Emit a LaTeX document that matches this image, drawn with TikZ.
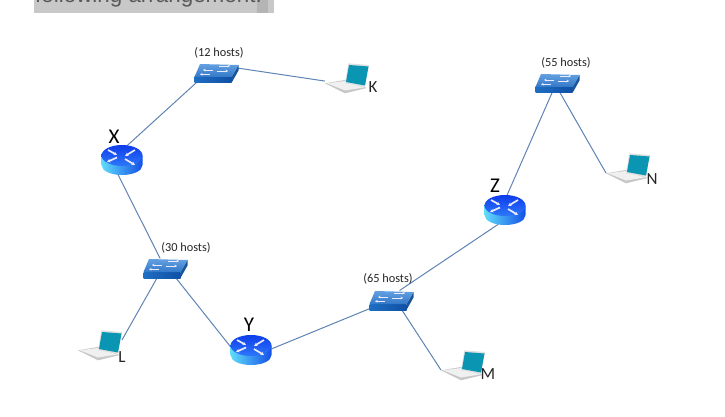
\documentclass[tikz,border=0pt]{standalone}
\usepackage{fontspec}
\setmainfont{Carlito}
\newfontfamily\bandfont{Liberation Sans}
\usetikzlibrary{shapes.geometric, arrows.meta}
\definecolor{linkblue}{RGB}{96,132,180}
\definecolor{bandgray}{RGB}{200,200,200}
\definecolor{bandedge}{RGB}{180,180,180}
\definecolor{screenteal}{RGB}{10,150,178}
\definecolor{rtcyan}{RGB}{95,220,250}
\definecolor{rtmid}{RGB}{40,135,240}
\definecolor{rtblue}{RGB}{20,80,232}
\definecolor{rttop}{RGB}{15,60,235}
\definecolor{rttopb}{RGB}{45,120,250}
\definecolor{swtop}{RGB}{100,160,225}
\definecolor{swtopb}{RGB}{50,120,200}
\definecolor{swfront}{RGB}{30,110,195}
\definecolor{swfrontb}{RGB}{15,80,165}
\definecolor{swside}{RGB}{25,85,155}
\tikzset{
  rt/.style = {ellipse, minimum width=41pt, minimum height=30pt, inner sep=0pt, outer sep=0pt},
  sw/.style = {rectangle, minimum width=43pt, minimum height=19pt, inner sep=0pt, outer sep=0pt},
  lap/.style = {rectangle, minimum width=44pt, minimum height=30pt, inner sep=0pt, outer sep=0pt},
  lk/.style = {draw=linkblue, line width=1pt},
  hostlb/.style = {font=\fontsize{12.3}{14}\selectfont, text=black!85, inner sep=0pt},
  rtlb/.style = {font=\fontsize{21}{23}\selectfont, inner sep=0pt},
  laplb/.style = {font=\fontsize{17}{19}\selectfont, text=black!85, inner sep=0pt},
  wht/.style = {-{Stealth[length=2.6pt,width=2.6pt]}, draw=white!92!blue, line width=0.9pt},
  whr/.style = {-{Stealth[length=3.4pt,width=3.6pt]}, draw=white!92!blue, line width=1.7pt},
  router/.pic = {
    \shade [left color=rtcyan, middle color=rtmid, right color=rtblue]
      (-20.5,-4.5) -- (-20.5,5) .. controls (-20.5,11) and (-11,15) .. (0,15)
      .. controls (11,15) and (20.5,11) .. (20.5,5) -- (20.5,-4.5) -- cycle;
    \shade [top color=rttop, bottom color=rttopb]
      (0,-4.5) ellipse [x radius=20.5, y radius=10.5];
    \draw [whr] (-14,-10) -- (-5,-5);
    \draw [whr] (13,-10) -- (3,-4);
    \draw [whr] (-5,-2.5) -- (-15,2);
    \draw [whr] (3,-1) -- (13,5);
  },
  hub/.pic = {
    \shade [left color=swfront, right color=swfrontb]
      (-21.5,4) -- (15.5,4) -- (15.5,10) -- (-21.5,10) -- cycle;
    \fill [swside] (15.5,4) -- (22.5,-8) -- (22.5,-2.5) -- (15.5,10) -- cycle;
    \shade [top color=swtop, bottom color=swtopb]
      (-16,-9) -- (22.5,-8) -- (15.5,4) -- (-21.5,4) -- cycle;
    \draw [wht] (-3,-3) -- (-13,-3);
    \draw [wht] (-6,1.3) -- (-16,1.3);
    \draw [wht] (3,-7) -- (14,-7);
    \draw [wht] (1,-2) -- (12,-2);
  },
  laptop/.pic = {
    \fill [black!22] (-22,5.3) -- (-2,2) -- (19.7,10) -- (-2,15.3) -- cycle;
    \fill [black!6] (-20,5.3) -- (-2,3) -- (17,9.5) -- (-2,12.5) -- cycle;
    \fill [black!12] (1.3,-14.7) -- (22,-13) -- (18,8.7) -- (-2,5.3) -- cycle;
    \fill [screenteal] (2,-13) -- (21.5,-11.5) -- (18,7.5) -- (-1,4) -- cycle;
  }
}
\begin{document}
\begin{tikzpicture}[x=1pt, y=-1pt]
  \path [use as bounding box, fill=white] (0,0) rectangle (725,417);
  % band left at the top
  \fill [bandgray] (34,0) rectangle (274,13);
  \fill [bandedge] (257,0) rectangle (268,13);
  \node (band) [anchor=base west, inner sep=0pt, text=black!65,
    font=\bandfont\fontsize{22.4}{24}\selectfont] at (35,3) {following arrangement.};

  % routers
  \node (rx) [rt] at (122,160) {};
  \node (ry) [rt] at (251,350) {};
  \node (rz) [rt] at (505,210) {};
  % switches
  \node (swk) [sw] at (216,73) {};
  \node (swl) [sw] at (165,268) {};
  \node (swm) [sw] at (391,300) {};
  \node (swn) [sw] at (557,83) {};
  % laptops
  \node (lk) [lap] at (347,78) {};
  \node (ll) [lap] at (100,345) {};
  \node (lm) [lap] at (463,365) {};
  \node (ln) [lap] at (628,168) {};

  \draw [lk] (rx.70) -- (swk.206);
  \draw [lk] (swk.13) -- (lk.188);
  \draw [lk] (rx.255) -- (swl.117);
  \draw [lk] (swl.231) -- (ll.13);
  \draw [lk] (swl.318) -- (ry.172);
  \draw [lk] (ry.3) -- (swm.202);
  \draw [lk] (swm.48) -- (rz.245);
  \draw [lk] (swm.318) -- (lm.193);
  \draw [lk] (rz.82) -- (swn.243);
  \draw [lk] (swn.287) -- (ln.193);

  \foreach \n in {rx,ry,rz} { \pic at (\n) {router}; }
  \foreach \n in {swk,swl,swm,swn} { \pic at (\n) {hub}; }
  \foreach \n in {lk,ll,lm,ln} { \pic at (\n) {laptop}; }

  \node (hk) [hostlb] at (219,53) {(12 hosts)};
  \node (hl) [hostlb] at (186,248) {(30 hosts)};
  \node (hm) [hostlb] at (388,279) {(65 hosts)};
  \node (hn) [hostlb] at (566,63) {(55 hosts)};

  \node (tx) [rtlb] at (114,137) {X};
  \node (ty) [rtlb] at (249,325) {Y};
  \node (tz) [rtlb] at (495,186) {Z};

  \node (tk) [laplb] at (373,87) {K};
  \node (tl) [laplb] at (122,357) {L};
  \node (tm) [laplb] at (488,374) {M};
  \node (tn) [laplb] at (652,179) {N};
\end{tikzpicture}
\end{document}
